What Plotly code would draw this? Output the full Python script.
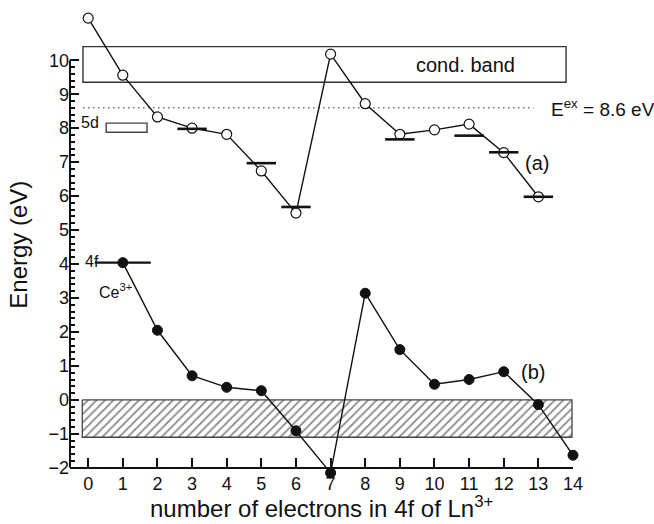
import plotly.graph_objects as go

# Number of 4f electrons of the trivalent lanthanide
n_a = list(range(0, 14))
n_b = list(range(1, 15))

# (a) 4f -> 5d energies (eV), open circles
energy_a = [11.24, 9.56, 8.33, 8.0, 7.82, 6.74, 5.5, 10.18, 8.72, 7.82, 7.95, 8.12, 7.28, 5.98]
# (b) 4f ground state energies (eV), filled circles
energy_b = [4.04, 2.05, 0.71, 0.37, 0.27, -0.91, -2.15, 3.14, 1.48, 0.46, 0.6, 0.83, -0.14, -1.63]

# Experimental levels shown as short horizontal bars
n_exp = [3, 5, 6, 9, 11, 12, 13]
energy_exp = [7.98, 6.97, 5.68, 7.67, 7.78, 7.29, 5.98]

# Bands and reference levels
cond_band = (9.35, 10.4)
exciton_energy = 8.6
valence_band = (-1.1, 0.0)
ce_4f = (1, 4.04)
ce_5d = (7.88, 8.15)

# Axis ticks
x_ticks = list(range(0, 15))
y_ticks = list(range(-2, 11))
y_minor = [round(-2 + 0.2 * i, 1) for i in range(61) if (i % 5) != 0]

FONT = "Liberation Sans, Arial, Helvetica, sans-serif"
BLACK = "#111111"

W, H = 654, 524
M_L, M_R, M_T, M_B = 70, 81, 11, 46
Y_MIN, Y_MAX = -2.3, 11.45
X_MIN, X_MAX = -0.525, 14.0
AXIS_Y = -2.0  # the x axis sits at E = -2 eV
x_axis_pos = (AXIS_Y - Y_MIN) / (Y_MAX - Y_MIN)

fig = go.Figure()

# Hatched valence band
vb_x0, vb_x1 = -0.17, 13.97
fig.add_trace(go.Scatter(
    x=[vb_x0, vb_x1, vb_x1, vb_x0, vb_x0],
    y=[valence_band[1], valence_band[1], valence_band[0], valence_band[0], valence_band[1]],
    mode="lines", fill="toself", fillcolor="white",
    fillpattern=dict(shape="/", fgcolor="#111111", bgcolor="white", size=6, solidity=0.3),
    line=dict(color="#444444", width=1.3),
    hoverinfo="skip", showlegend=False,
))

# Exciton level (dotted)
fig.add_trace(go.Scatter(
    x=[-0.15, 12.86], y=[exciton_energy, exciton_energy], mode="lines",
    line=dict(color="#777777", width=1.6, dash="1.6px,3.4px"),
    hoverinfo="skip", showlegend=False,
))

# Series (a)
fig.add_trace(go.Scatter(
    x=n_a, y=energy_a, mode="lines+markers", cliponaxis=False,
    line=dict(color=BLACK, width=1.4),
    marker=dict(symbol="circle", size=10, color="white", line=dict(color=BLACK, width=1.2)),
    showlegend=False,
))

# Experimental bars
fig.add_trace(go.Scatter(
    x=n_exp, y=energy_exp, mode="markers", cliponaxis=False,
    marker=dict(symbol="line-ew", size=21, line=dict(color=BLACK, width=2.6)),
    showlegend=False,
))

# Ce3+ 4f level bar
fig.add_trace(go.Scatter(
    x=[ce_4f[0]], y=[ce_4f[1]], mode="markers", cliponaxis=False,
    marker=dict(symbol="line-ew", size=40, line=dict(color=BLACK, width=2.2)),
    showlegend=False,
))

# Series (b)
fig.add_trace(go.Scatter(
    x=n_b, y=energy_b, mode="lines+markers", cliponaxis=False,
    line=dict(color=BLACK, width=1.4),
    marker=dict(symbol="circle", size=10, color=BLACK, line=dict(color=BLACK, width=1)),
    showlegend=False,
))

# Conduction band and Ce3+ 5d boxes
fig.add_shape(type="rect", x0=-0.15, x1=13.8, y0=cond_band[0], y1=cond_band[1],
              line=dict(color="#333333", width=1.4), layer="below")
fig.add_shape(type="rect", x0=0.52, x1=1.7, y0=ce_5d[0], y1=ce_5d[1],
              line=dict(color="#444444", width=1.4), layer="below")

# Left axis line from -2 to 10
fig.add_shape(type="line", xref="paper", yref="y", x0=0, x1=0, y0=y_ticks[0], y1=y_ticks[-1],
              line=dict(color=BLACK, width=2))

txt = dict(showarrow=False)
def font(size):
    return dict(family=FONT, size=size, color=BLACK)

fig.add_annotation(x=10.9, y=9.87, text="cond. band", font=font(20), **txt)
fig.add_annotation(x=13.3, y=exciton_energy, xanchor="left",
                   text="E<sup>ex</sup> = 8.6 eV", font=font(19), **txt)
fig.add_annotation(x=0.36, y=8.17, xanchor="right", text="5d", font=font(16), **txt)
fig.add_annotation(x=0.38, y=4.06, xanchor="right", text="4f", font=font(16), **txt)
fig.add_annotation(x=0.26, y=3.22, xanchor="left", text="Ce<sup>3+</sup>", font=font(16), **txt)
fig.add_annotation(x=12.95, y=6.97, text="(a)", font=font(20), **txt)
fig.add_annotation(x=12.85, y=0.82, text="(b)", font=font(20), **txt)

# Axis titles
fig.add_annotation(xref="paper", yref="paper", x=0.5, y=-0.062, yanchor="middle",
                   text="number of electrons in 4f of Ln<sup>3+</sup>", font=font(24), **txt)
fig.add_annotation(xref="paper", yref="paper", x=-0.103, y=0.5, xanchor="center", textangle=-90,
                   text="Energy (eV)", font=font(24), **txt)

fig.update_layout(
    width=W, height=H,
    margin=dict(l=M_L, r=M_R, t=M_T, b=M_B),
    paper_bgcolor="white", plot_bgcolor="white",
    font=dict(family=FONT, size=18, color=BLACK),
    xaxis=dict(
        range=[X_MIN, X_MAX], tickvals=x_ticks,
        anchor="free", position=x_axis_pos,
        ticks="inside", ticklen=9, tickwidth=2.2, tickcolor=BLACK,
        showline=True, linecolor=BLACK, linewidth=2,
        showgrid=False, zeroline=False, fixedrange=True,
        tickfont=font(18),
    ),
    yaxis=dict(
        range=[Y_MIN, Y_MAX], tickvals=y_ticks,
        ticks="inside", ticklen=9, tickwidth=2.2, tickcolor=BLACK,
        minor=dict(tickmode="array", tickvals=y_minor, ticks="inside",
                   ticklen=5, tickwidth=1.6, tickcolor=BLACK),
        showline=False, showgrid=False, zeroline=False, fixedrange=True,
        tickfont=font(18),
    ),
)

fig.write_html("out.html")
